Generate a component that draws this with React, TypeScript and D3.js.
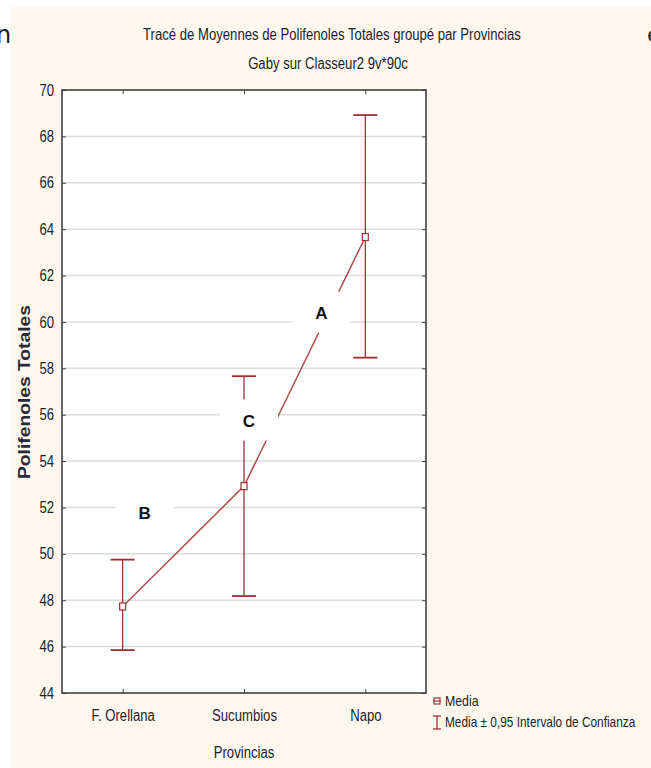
import { useRef, useEffect } from 'react';
import * as d3 from 'd3';

const PROVINCIAS = ['F. Orellana', 'Sucumbios', 'Napo'];
const MEDIA = [47.73, 52.92, 63.66];
const IC_HIGH = [49.75, 57.66, 68.92];
const IC_LOW = [45.85, 48.18, 58.46];
const GROUP_LETTERS = ['B', 'C', 'A'];
const LETTER_Y = [51.75, 55.75, 60.4];
const LETTER_DX = [22, 5, -44];
const Y_TICKS = [44, 46, 48, 50, 52, 54, 56, 58, 60, 62, 64, 66, 68, 70];

const W = 651;
const H = 768;
const BG = '#fdf8ee';
const RED = '#9e2f34';
const LINE_RED = '#b0494c';
const TEXT = '#1d1d2b';
const SANS = '"Liberation Sans", Arial, sans-serif';

// no narrow font installed, so squeeze the regular one horizontally
function squeeze(sel: any, k = 0.82) {
  sel.each(function (this: SVGTextElement) {
    const len = this.getComputedTextLength();
    if (len > 0) {
      this.setAttribute('textLength', String(len * k));
      this.setAttribute('lengthAdjust', 'spacingAndGlyphs');
    }
  });
}

const App = () => {
  const svgRef = useRef<SVGSVGElement | null>(null);

  useEffect(() => {
    const root = d3.select(svgRef.current);
    root.selectAll('*').remove();

    const margin = { left: 62, top: 90, right: W - 426, bottom: H - 693 };
    const width = W - margin.left - margin.right;
    const height = H - margin.top - margin.bottom;

    // page & panel background
    root.append('rect').attr('width', W).attr('height', H).attr('fill', 'white');
    root.append('rect').attr('x', 11).attr('y', 7).attr('width', W - 11).attr('height', H - 7).attr('fill', BG);

    // cut-off document text on the sides
    root.append('text').attr('x', -4).attr('y', 43).attr('font-family', 'DejaVu Sans, sans-serif')
      .attr('font-size', 24).attr('fill', '#222').text('n');
    root.append('text').attr('x', 647).attr('y', 42).attr('font-family', 'DejaVu Sans, sans-serif')
      .attr('font-size', 22).attr('fill', '#222').text('e');

    // titles
    const t1 = root.append('text').attr('x', 332).attr('y', 40).attr('text-anchor', 'middle')
      .attr('font-family', SANS).attr('font-size', 16).attr('fill', TEXT)
      .text('Tracé de Moyennes de Polifenoles Totales groupé par Provincias');
    const t2 = root.append('text').attr('x', 328).attr('y', 69).attr('text-anchor', 'middle')
      .attr('font-family', SANS).attr('font-size', 16).attr('fill', TEXT)
      .text('Gaby sur Classeur2 9v*90c');
    squeeze(t1);
    squeeze(t2);

    const svg = root.append('g').attr('transform', `translate(${margin.left},${margin.top})`);

    svg.append('rect').attr('width', width).attr('height', height).attr('fill', 'white');

    const x = d3.scalePoint<string>().domain(PROVINCIAS).range([0, width]).padding(0.5);
    const y = d3.scaleLinear().domain([44, 70]).range([height, 0]);

    // grid
    svg.selectAll('line.grid')
      .data(Y_TICKS.slice(1, -1))
      .join('line')
      .attr('x1', 0).attr('x2', width)
      .attr('y1', (d) => y(d)).attr('y2', (d) => y(d))
      .attr('stroke', '#dcdcdc').attr('stroke-width', 1.5);

    // axes
    const yAxis = svg.append('g').call(d3.axisLeft(y).tickValues(Y_TICKS).tickSize(-4).tickPadding(8).tickFormat(d3.format('d')));
    const yAxisR = svg.append('g').attr('transform', `translate(${width},0)`)
      .call(d3.axisRight(y).tickValues(Y_TICKS).tickSize(-4).tickFormat(() => ''));
    const xAxis = svg.append('g').attr('transform', `translate(0,${height})`)
      .call(d3.axisBottom(x).tickSize(-4).tickPadding(17));
    const xAxisT = svg.append('g').call(d3.axisTop(x).tickSize(-4).tickFormat(() => ''));

    [yAxis, yAxisR, xAxis, xAxisT].forEach((a) => {
      a.select('.domain').remove();
      a.selectAll('line').attr('stroke', '#444');
      a.selectAll('text').attr('font-family', SANS).attr('font-size', 16).attr('fill', TEXT);
      squeeze(a.selectAll('text'));
    });

    svg.append('rect').attr('width', width).attr('height', height)
      .attr('fill', 'none').attr('stroke', '#333').attr('stroke-width', 1.5);

    // mean line
    const pts = PROVINCIAS.map((p, i) => [x(p) as number, y(MEDIA[i])] as [number, number]);
    svg.append('path').attr('d', d3.line()(pts)).attr('fill', 'none')
      .attr('stroke', LINE_RED).attr('stroke-width', 1.5);

    // error bars
    const eb = svg.selectAll('g.eb').data(PROVINCIAS).join('g');
    eb.append('line')
      .attr('x1', (d) => x(d) as number).attr('x2', (d) => x(d) as number)
      .attr('y1', (_, i) => y(IC_LOW[i])).attr('y2', (_, i) => y(IC_HIGH[i]))
      .attr('stroke', RED).attr('stroke-width', 1.3);
    [IC_LOW, IC_HIGH].forEach((arr) => {
      eb.append('line')
        .attr('x1', (d) => (x(d) as number) - 12).attr('x2', (d) => (x(d) as number) + 12)
        .attr('y1', (_, i) => y(arr[i])).attr('y2', (_, i) => y(arr[i]))
        .attr('stroke', RED).attr('stroke-width', 1.8);
    });
    eb.append('rect')
      .attr('x', (d) => (x(d) as number) - 3).attr('y', (_, i) => y(MEDIA[i]) - 3.5)
      .attr('width', 6).attr('height', 7)
      .attr('fill', 'white').attr('stroke', RED).attr('stroke-width', 1.2);

    // group letters on white boxes
    const lg = svg.selectAll('g.letter').data(GROUP_LETTERS).join('g')
      .attr('transform', (_, i) => `translate(${(x(PROVINCIAS[i]) as number) + LETTER_DX[i]},${y(LETTER_Y[i])})`);
    lg.append('rect').attr('x', -29).attr('y', -21).attr('width', 58).attr('height', 41).attr('fill', 'white');
    lg.append('text').attr('text-anchor', 'middle').attr('dy', '0.36em')
      .attr('font-family', SANS).attr('font-weight', 'bold')
      .attr('font-size', 17).attr('fill', '#111').text((d) => d);

    // axis titles
    const xt = root.append('text').attr('x', margin.left + (x('Sucumbios') as number)).attr('y', 758)
      .attr('text-anchor', 'middle').attr('font-family', SANS).attr('font-size', 16).attr('fill', TEXT)
      .text('Provincias');
    squeeze(xt);
    root.append('text').attr('transform', 'translate(30,392) rotate(-90)')
      .attr('text-anchor', 'middle').attr('font-family', SANS)
      .attr('font-weight', 'bold').attr('font-size', 16).attr('fill', '#2a2a36')
      .attr('textLength', 174).attr('lengthAdjust', 'spacingAndGlyphs')
      .text('Polifenoles Totales');

    // legend
    const leg = root.append('g').attr('transform', 'translate(437,701)');
    leg.append('line').attr('x1', -4).attr('x2', 4).attr('y1', 0).attr('y2', 0).attr('stroke', RED).attr('stroke-width', 1.2);
    leg.append('rect').attr('x', -3).attr('y', -3).attr('width', 6).attr('height', 6)
      .attr('fill', 'none').attr('stroke', RED).attr('stroke-width', 1.2);
    const l1 = leg.append('text').attr('x', 8).attr('y', 0).attr('dy', '0.35em')
      .attr('font-family', SANS).attr('font-size', 15).attr('fill', TEXT).text('Media');
    leg.append('line').attr('x1', 0).attr('x2', 0).attr('y1', 15).attr('y2', 28).attr('stroke', RED).attr('stroke-width', 1.3);
    leg.append('line').attr('x1', -4).attr('x2', 4).attr('y1', 15).attr('y2', 15).attr('stroke', RED).attr('stroke-width', 1.3);
    leg.append('line').attr('x1', -4).attr('x2', 4).attr('y1', 28).attr('y2', 28).attr('stroke', RED).attr('stroke-width', 1.3);
    const l2 = leg.append('text').attr('x', 8).attr('y', 21).attr('dy', '0.35em')
      .attr('font-family', SANS).attr('font-size', 15).attr('fill', TEXT)
      .text('Media ± 0,95 Intervalo de Confianza');
    squeeze(l1);
    squeeze(l2, 0.79);
  }, []);

  return <svg ref={svgRef} width={W} height={H} style={{ position: 'absolute', left: 0, top: 0 }} />;
};

export default App;
